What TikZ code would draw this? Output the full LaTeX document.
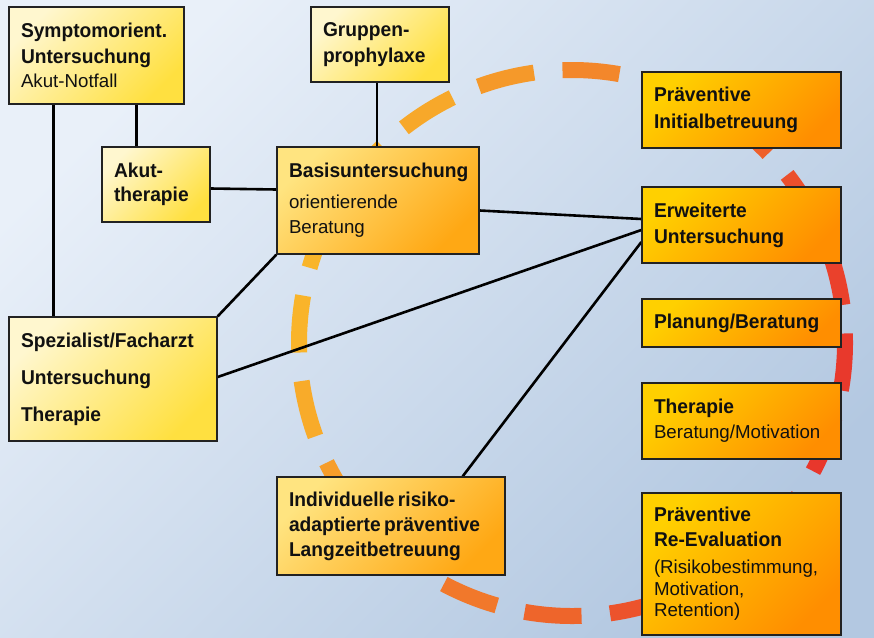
\documentclass[tikz,border=0pt]{standalone}
\usepackage{fontspec}
\setmainfont{Liberation Sans}[BoldFeatures={FakeStretch=0.96}]
\usetikzlibrary{calc}
\setlength\parindent{0pt}

\definecolor{bgA}{HTML}{E9F0F9}
\definecolor{bgB}{HTML}{B3C8E1}
\definecolor{paleA}{HTML}{FFF7CF}
\definecolor{paleB}{HTML}{FFE040}
\definecolor{midA}{HTML}{FFE480}
\definecolor{midB}{HTML}{FFA814}
\definecolor{hotA}{HTML}{FFD000}
\definecolor{hotB}{HTML}{FF8E00}
\definecolor{ringA}{HTML}{F9B52A}
\definecolor{ringB}{HTML}{E8362C}
\definecolor{frame}{HTML}{222222}
\definecolor{ink}{HTML}{111111}

% one line of bold heading text / regular text, with its own baseline distance
\newcommand\HeadLn[2][26]{{\fontsize{20}{#1}\selectfont\bfseries\mbox{#2}\par}}
\newcommand\TextLn[2][25]{{\fontsize{18.7}{#1}\selectfont\mbox{#2}\par}}

\pgfdeclarelayer{back}
\pgfdeclarelayer{mid}
\pgfsetlayers{back,mid,main}

\tikzset{
  box/.style={draw=frame, line width=1.3pt, rectangle, inner xsep=12pt,
    inner ysep=0pt, align=left, text=ink, anchor=center},
  pale/.style={box, top color=paleA, bottom color=paleB, shading angle=45},
  warm/.style={box, top color=midA, bottom color=midB, shading angle=45},
  hot/.style={box, top color=hotA, bottom color=hotB, shading angle=45},
  link/.style={draw=black, line width=2.6pt},
  ringdash/.style={line width=16pt, line cap=butt},
}

\begin{document}
\begin{tikzpicture}[x=1pt, y=-1pt]
\useasboundingbox (0,0) rectangle (874,637);

% boxes
\node[pale, text width=151pt, minimum width=175pt, minimum height=97pt] (sym) at (96.5,55.5)
  {\HeadLn{Symptomorient.}\HeadLn[26]{Untersuchung}\TextLn[24]{Akut-Notfall}};
\node[pale, text width=84pt, minimum width=108pt, minimum height=75pt] (akut) at (156,184.5)
  {\HeadLn{Akut-}\HeadLn[24]{therapie}};
\node[pale, text width=114pt, minimum width=138pt, minimum height=75pt] (grp) at (380,44.5)
  {\HeadLn{Gruppen-}\HeadLn[26]{prophylaxe}};
\node[warm, text width=178pt, minimum width=202pt, minimum height=107pt] (basis) at (378,200.5)
  {\HeadLn{Basisuntersuchung}\TextLn[31]{orientierende}\TextLn[25]{Beratung}};
\node[pale, text width=184pt, minimum width=208pt, minimum height=124pt] (spec) at (113,379)
  {\HeadLn{Spezialist/Facharzt}\HeadLn[37]{Untersuchung}\HeadLn[37]{Therapie}};
\node[warm, text width=204pt, minimum width=228pt, minimum height=98pt] (indiv) at (391,526)
  {\HeadLn{Individuelle risiko-}\HeadLn[25]{adaptierte präventive}\HeadLn[25]{Langzeitbetreuung}};

\node[hot, text width=175pt, minimum width=199pt, minimum height=76pt] (pinit) at (741.5,110)
  {\HeadLn{Präventive}\HeadLn[27]{Initialbetreuung}};
\node[hot, text width=175pt, minimum width=199pt, minimum height=76pt] (erw) at (741.5,225)
  {\HeadLn{Erweiterte}\HeadLn[26]{Untersuchung}};
\node[hot, text width=175pt, minimum width=199pt, minimum height=48pt] (plan) at (741.5,323)
  {\HeadLn{Planung/Beratung}};
\node[hot, text width=175pt, minimum width=199pt, minimum height=76pt] (ther) at (741.5,421)
  {\HeadLn{Therapie}\TextLn[25]{Beratung/Motivation}};
\node[hot, text width=175pt, minimum width=199pt, minimum height=142pt] (reeval) at (741.5,564)
  {\HeadLn{Präventive}\HeadLn[25]{Re-Evaluation}\TextLn[27]{(Risikobestimmung,}\TextLn[22]{Motivation,}\TextLn[21]{Retention)}};

% backdrop and the dashed care cycle
\begin{pgfonlayer}{back}
  \shade[top color=bgA, bottom color=bgB, shading angle=45] (0,0) rectangle (874,637);
  \foreach \k in {0,...,19} {
    \pgfmathsetmacro\a{80+18*\k}
    \pgfmathtruncatemacro\p{50*(cos(\a+26)+1)}
    \draw[ringdash, draw=ringB!\p!ringA]
      ([shift={(572,343)}]-\a:273) arc[start angle=-\a, end angle=-\a-12, radius=273];
  }
\end{pgfonlayer}

% connectors
\begin{pgfonlayer}{mid}
  \draw[link] ($(sym.south west)+(45,0)$) -- ($(spec.north west)+(45,0)$);
  \draw[link] ($(akut.north west)+(35,0)$) -- ($(sym.south west)+(128,0)$);
  \draw[link] ($(akut.east)+(0,4)$) -- ($(basis.west)+(0,-11)$);
  \draw[link] ($(grp.south)+(-3,0)$) -- ($(basis.north)+(-1,0)$);
  \draw[link] ($(basis.east)+(0,10)$) -- ($(erw.west)+(0,-6)$);
  \draw[link] (basis.south west) -- (spec.north east);
  \draw[link] ($(spec.east)+(0,-2)$) -- ($(erw.west)+(0,5)$);
  \draw[link] ($(indiv.north east)+(-43,0)$) -- ($(erw.west)+(0,17)$);
\end{pgfonlayer}
\end{tikzpicture}
\end{document}
